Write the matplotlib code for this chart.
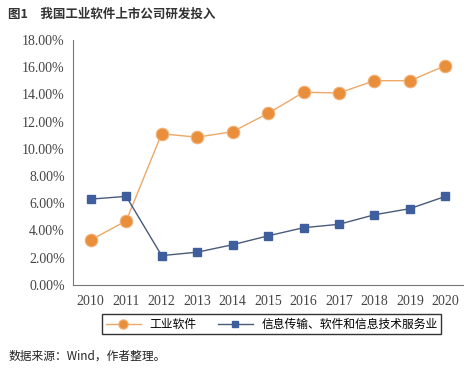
import matplotlib
matplotlib.use("Agg")
import matplotlib.pyplot as plt
from matplotlib.ticker import FuncFormatter, MultipleLocator

years = ["2010", "2011", "2012", "2013", "2014", "2015", "2016", "2017", "2018", "2019", "2020"]
industrial_software = [3.3, 4.7, 11.1, 10.85, 11.25, 12.6, 14.15, 14.1, 15.0, 15.0, 16.1]
it_services = [6.3, 6.5, 2.15, 2.4, 2.95, 3.6, 4.2, 4.45, 5.15, 5.6, 6.5]
series_names = ["工业软件", "信息传输、软件和信息技术服务业"]

cjk = ["Noto Sans CJK SC", "DejaVu Sans"]
serif = ["Liberation Serif", "DejaVu Serif"]

fig = plt.figure(figsize=(4.74, 3.69), dpi=100)
ax = fig.add_axes([0.154, 0.228, 0.823, 0.664])

x = list(range(len(years)))
ax.plot(x, industrial_software, color="#EDA867", lw=1.0, marker="o", ms=9,
        mfc="#E98F3C", mec="#F2B27A", mew=0.8, label=series_names[0], zorder=3)
ax.plot(x, it_services, color="#4A5A7A", lw=1.0, marker="s", ms=5.5,
        mfc="#3F5E9E", mec="#3F5E9E", label=series_names[1], zorder=3)

ax.set_xlim(-0.5, len(years) - 0.5)
ax.set_ylim(0, 18)
ax.yaxis.set_major_locator(MultipleLocator(2))
ax.yaxis.set_major_formatter(FuncFormatter(lambda v, p: f"{v:.2f}%"))
ax.set_xticks(x)
ax.set_xticklabels(years)
for lab in ax.get_xticklabels() + ax.get_yticklabels():
    lab.set_family(serif)
    lab.set_fontsize(10)
    lab.set_color("#444444")
ax.tick_params(axis="x", length=0, pad=7)
ax.tick_params(axis="y", length=0, pad=6)
for s in ["top", "right"]:
    ax.spines[s].set_visible(False)
for s in ["left", "bottom"]:
    ax.spines[s].set_color("#777777")
    ax.spines[s].set_linewidth(0.8)

leg = fig.legend(loc="center", bbox_to_anchor=(0.573, 0.121), ncol=2,
                 prop={"family": cjk, "size": 8.5}, frameon=True, fancybox=False,
                 edgecolor="black", handlelength=3.0, columnspacing=1.8,
                 borderpad=0.3, borderaxespad=0.0, handletextpad=0.7,
                 markerscale=0.75)
leg.get_frame().set_linewidth(1.0)

fig.text(0.017, 0.962, "图1　我国工业软件上市公司研发投入", family=cjk, fontsize=9,
         fontweight="bold", color="#333333", va="center", ha="left")
fig.text(0.017, 0.035, "数据来源：Wind，作者整理。", family=cjk, fontsize=8.5,
         color="#222222", va="center", ha="left")

fig.savefig("out.png", dpi=100, facecolor="white")
